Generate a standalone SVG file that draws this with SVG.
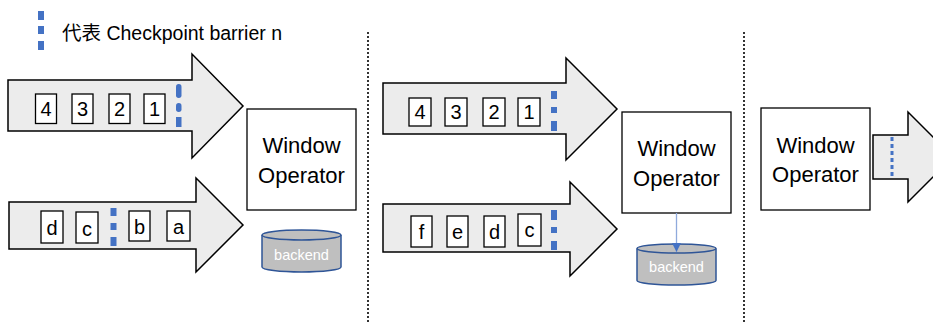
<svg xmlns="http://www.w3.org/2000/svg" width="933" height="322" viewBox="0 0 933 322">
  <defs>
    <style>
      .flow { fill: #ececec; stroke: #000; stroke-width: 1.5; stroke-linejoin: miter; }
      .item { fill: #fff; stroke: #000; stroke-width: 1.3; }
      .itxt { font-family: "Liberation Sans", Arial, sans-serif; font-size: 20px; fill: #000; text-anchor: middle; }
      .op { fill: #fff; stroke: #000; stroke-width: 1.3; }
      .optxt { font-family: "Liberation Sans", Arial, sans-serif; font-size: 22px; fill: #000; text-anchor: middle; }
      .bar { fill: #4472c4; }
      .cyl { fill: #bfbfbf; stroke: #2f5597; stroke-width: 1.5; }
      .cyltxt { font-family: "Liberation Sans", Arial, sans-serif; font-size: 14.5px; fill: #fff; text-anchor: middle; }
      .sep { stroke: #333; stroke-width: 2; stroke-dasharray: 2 2; fill: none; }
      .legend { font-family: "Liberation Sans", "Noto Sans CJK SC", sans-serif; font-size: 19.5px; fill: #000; }
    </style>
    <marker id="tip" viewBox="0 0 10 10" refX="10" refY="5" markerWidth="7" markerHeight="7" orient="auto">
      <path d="M0,0 L10,5 L0,10 z" fill="#4472c4"/>
    </marker>
  </defs>

  <!-- legend -->
  <g id="legend">
    <rect class="bar" x="38" y="11" width="6" height="9"/>
    <rect class="bar" x="38" y="26" width="6" height="8"/>
    <rect class="bar" x="38" y="41" width="6" height="9"/>
    <text class="legend" x="62" y="40">代表 Checkpoint barrier n</text>
  </g>

  <!-- panel separators -->
  <g id="separators">
    <line class="sep" x1="368" y1="32" x2="368" y2="322"/>
    <line class="sep" x1="744" y1="32" x2="744" y2="322"/>
  </g>

  <!-- panel 1: upper input stream -->
  <g id="p1-stream-top">
    <polygon class="flow" points="8,80 192,80 192,54 243,106 192,158 192,131 8,131"/>
    <rect class="item" x="35.5" y="94" width="21" height="29.5"/><text class="itxt" x="46" y="116">4</text>
    <rect class="item" x="72" y="94" width="21" height="29.5"/><text class="itxt" x="82.5" y="116">3</text>
    <rect class="item" x="109" y="94" width="21" height="29.5"/><text class="itxt" x="119.5" y="116">2</text>
    <rect class="item" x="144" y="94" width="21" height="29.5"/><text class="itxt" x="154.5" y="116">1</text>
    <rect class="bar" x="176" y="84" width="5.5" height="14" rx="2.7"/>
    <rect class="bar" x="176" y="103" width="5.5" height="9" rx="2.7"/>
    <rect class="bar" x="176" y="117" width="5.5" height="10"/>
  </g>

  <!-- panel 1: lower input stream -->
  <g id="p1-stream-bottom">
    <polygon class="flow" points="9,202 196,202 196,178 243,225 196,272 196,249 9,249"/>
    <rect class="item" x="41" y="211" width="22" height="32"/><text class="itxt" x="52" y="235">d</text>
    <rect class="item" x="76" y="212" width="22" height="31"/><text class="itxt" x="87" y="236">c</text>
    <rect class="bar" x="110.5" y="208" width="6" height="8"/>
    <rect class="bar" x="110.5" y="223" width="6" height="7"/>
    <rect class="bar" x="110.5" y="237" width="6" height="9"/>
    <rect class="item" x="129" y="211" width="21" height="30"/><text class="itxt" x="139.5" y="234">b</text>
    <rect class="item" x="167" y="211" width="23" height="30"/><text class="itxt" x="178.5" y="234">a</text>
  </g>

  <!-- panel 1: operator and state backend -->
  <g id="p1-operator">
    <rect class="op" x="247" y="109" width="109" height="101"/>
    <text class="optxt" x="301.5" y="153">Window</text>
    <text class="optxt" x="301.5" y="183">Operator</text>
  </g>
  <g id="p1-backend">
    <path class="cyl" d="M262,235 L262,267 A39.5,5 0 0 0 341,267 L341,235"/>
    <ellipse class="cyl" cx="301.5" cy="235" rx="39.5" ry="5"/>
    <text class="cyltxt" x="301.5" y="259.5">backend</text>
  </g>

  <!-- panel 2: upper input stream -->
  <g id="p2-stream-top">
    <polygon class="flow" points="383,83 566,83 566,58 617,109 566,160 566,134 383,134"/>
    <rect class="item" x="409" y="98" width="22" height="28"/><text class="itxt" x="420" y="119">4</text>
    <rect class="item" x="445" y="98" width="22" height="28"/><text class="itxt" x="456" y="119">3</text>
    <rect class="item" x="483" y="98" width="22" height="28"/><text class="itxt" x="494" y="119">2</text>
    <rect class="item" x="518" y="98" width="22" height="28"/><text class="itxt" x="529" y="119">1</text>
    <rect class="bar" x="551" y="91" width="6" height="8"/>
    <rect class="bar" x="551" y="107" width="6" height="6"/>
    <rect class="bar" x="551" y="121" width="6" height="10"/>
  </g>

  <!-- panel 2: lower input stream -->
  <g id="p2-stream-bottom">
    <polygon class="flow" points="383,204 570,204 570,182 617,229 570,276 570,252 383,252"/>
    <rect class="item" x="411" y="216" width="21" height="31"/><text class="itxt" x="421.5" y="239">f</text>
    <rect class="item" x="447" y="216" width="21" height="31"/><text class="itxt" x="457.5" y="239">e</text>
    <rect class="item" x="484" y="216" width="21" height="31"/><text class="itxt" x="494.5" y="239">d</text>
    <rect class="item" x="518" y="214" width="23" height="32"/><text class="itxt" x="529.5" y="237">c</text>
    <rect class="bar" x="551" y="210" width="6" height="10"/>
    <rect class="bar" x="551" y="227" width="6" height="6"/>
    <rect class="bar" x="551" y="241" width="6" height="9"/>
  </g>

  <!-- panel 2: operator and state backend -->
  <g id="p2-operator">
    <rect class="op" x="622" y="112" width="109" height="101"/>
    <text class="optxt" x="676.5" y="156">Window</text>
    <text class="optxt" x="676.5" y="186">Operator</text>
  </g>
  <g id="p2-backend">
    <path class="cyl" d="M637,248.5 L637,280.5 A39.5,4.5 0 0 0 716,280.5 L716,248.5"/>
    <ellipse class="cyl" cx="676.5" cy="248.5" rx="39.5" ry="4.5"/>
    <text class="cyltxt" x="676.5" y="272">backend</text>
  </g>

  <!-- connectors -->
  <g id="connectors">
    <line x1="676.5" y1="213" x2="676.5" y2="252" stroke="#8faadc" stroke-width="1.3" marker-end="url(#tip)"/>
  </g>

  <!-- panel 3: operator and output stream -->
  <g id="p3-operator">
    <rect class="op" x="761" y="108" width="109" height="102"/>
    <text class="optxt" x="815.5" y="153">Window</text>
    <text class="optxt" x="815.5" y="182">Operator</text>
  </g>
  <g id="p3-stream-out">
    <polygon class="flow" points="873,135 908,135 908,112 953,157 908,202 908,179 873,179"/>
    <line x1="892" y1="137" x2="892" y2="177" stroke="#4472c4" stroke-width="3" stroke-dasharray="4 3"/>
  </g>
</svg>
